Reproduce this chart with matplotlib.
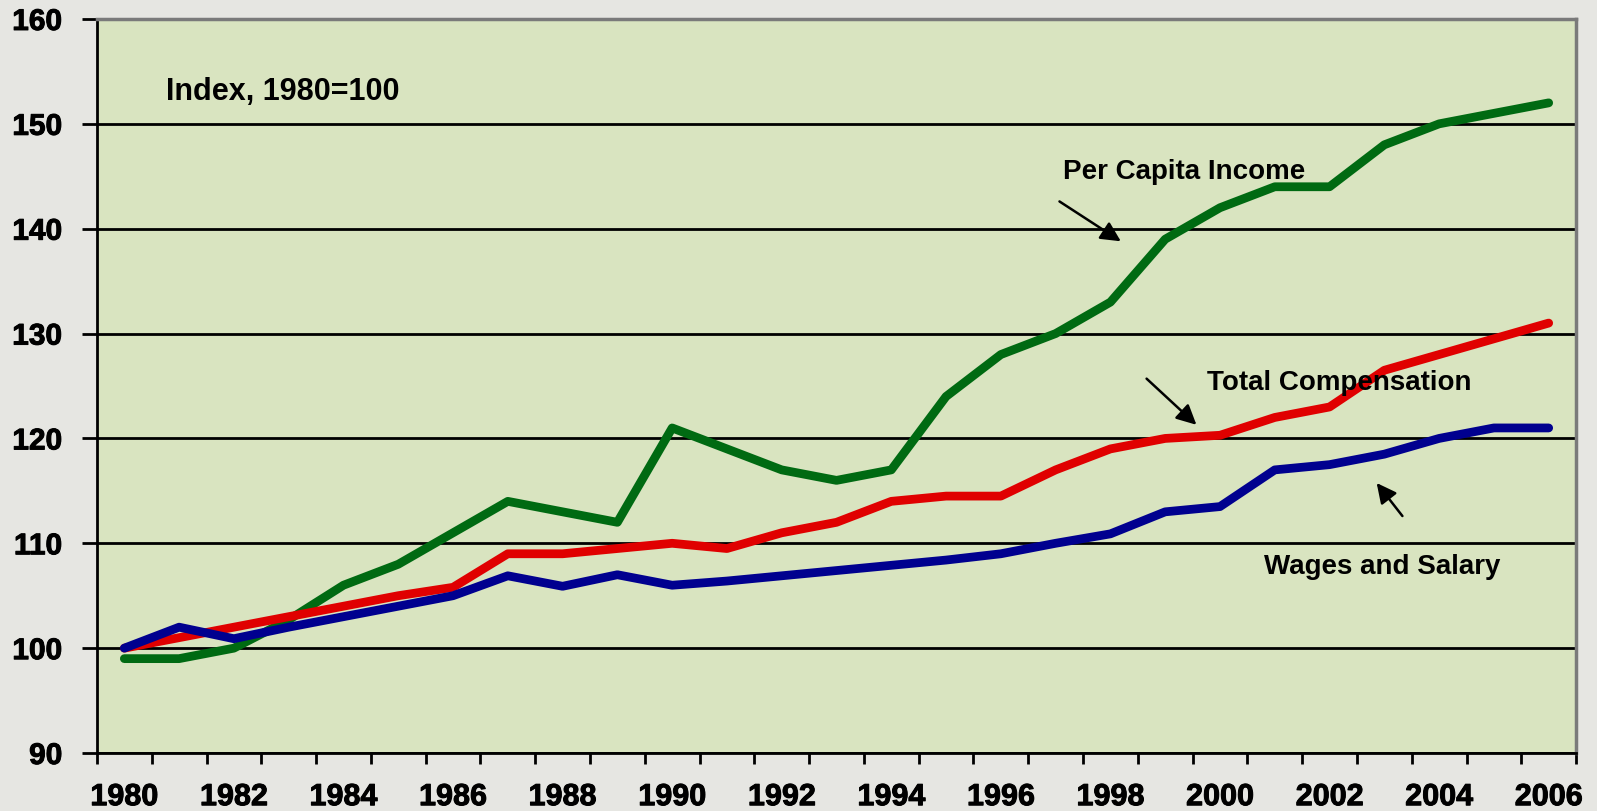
import numpy as np
import matplotlib.pyplot as plt
import matplotlib.patheffects as pe

years = list(range(1980, 2007))

# index values, 1980 = 100
per_capita = [99, 99, 100, 102.7, 106, 108, 111, 114, 113, 112, 121, 119, 117, 116, 117,
              124, 128, 130, 133, 139, 142, 144, 144, 148, 150, 151, 152]
total_comp = [100, 101, 102, 103, 104, 105, 105.8, 109, 109, 109.5, 110, 109.5, 111, 112, 114,
              114.5, 114.5, 117, 119, 120, 120.3, 122, 123, 126.5, 128, 129.5, 131]
wages = [100, 102, 100.9, 102, 103, 104, 105, 106.9, 105.9, 107, 106, 106.4, 106.9, 107.4, 107.9,
         108.4, 109, 110, 110.9, 113, 113.5, 117, 117.5, 118.5, 120, 121, 121]

plt.rcParams['font.family'] = ['Liberation Sans', 'DejaVu Sans']

fig = plt.figure(figsize=(15.97, 8.11), dpi=100, facecolor='#e6e6e2')
ax = fig.add_axes([0.0607, 0.0715, 0.9262, 0.9051])
ax.set_facecolor('#d9e4c0')

ax.plot(years, per_capita, color='#006a12', lw=6.3, solid_capstyle='round', solid_joinstyle='round', zorder=3)
ax.plot(years, total_comp, color='#e00000', lw=6.3, solid_capstyle='round', solid_joinstyle='round', zorder=3)
ax.plot(years, wages, color='#00008f', lw=6.3, solid_capstyle='round', solid_joinstyle='round', zorder=4)

ax.set_xlim(1979.5, 2006.5)
ax.set_ylim(90, 160)
ax.set_yticks(range(90, 161, 10))
ax.set_xticks(range(1980, 2007, 2))
ax.set_xticks(np.arange(1979.5, 2007, 1), minor=True)
ax.grid(axis='y', color='black', lw=2, zorder=1)
ax.set_axisbelow(True)

ax.tick_params(axis='x', which='major', length=0, pad=21, labelsize=22)
ax.tick_params(axis='x', which='minor', direction='out', length=8, width=2, color='black')
ax.tick_params(axis='y', direction='out', length=11, width=2, pad=14, labelsize=21.5)
heavy = [pe.withStroke(linewidth=0.7, foreground='black')]
for lab in ax.get_xticklabels() + ax.get_yticklabels():
    lab.set_fontweight('bold')
    lab.set_path_effects(heavy)

for s in ['left', 'bottom']:
    ax.spines[s].set_linewidth(2)
    ax.spines[s].set_color('black')
for s in ['top', 'right']:
    ax.spines[s].set_linewidth(2.5)
    ax.spines[s].set_color('#7a7a7a')

ax.text(1980.76, 153.0, 'Index, 1980=100', fontsize=22, fontweight='bold', va='center', ha='left')

ax.text(1997.13, 145.4, 'Per Capita Income', fontsize=20, fontweight='bold', va='center', ha='left')
ax.text(1999.76, 125.3, 'Total Compensation', fontsize=20, fontweight='bold', va='center', ha='left')
ax.text(2000.81, 107.7, 'Wages and Salary', fontsize=20, fontweight='bold', va='center', ha='left')

arrow = dict(arrowstyle='-|>,head_length=0.6,head_width=0.3', mutation_scale=20,
             color='black', lw=1.8, shrinkA=0, shrinkB=0)
ax.annotate('', xy=(1998.19, 138.8), xytext=(1997.07, 142.6), arrowprops=arrow)
ax.annotate('', xy=(1999.57, 121.3), xytext=(1998.66, 125.7), arrowprops=arrow)
ax.annotate('', xy=(2002.86, 115.75), xytext=(2003.33, 112.6), arrowprops=arrow)

fig.savefig('out.png', dpi=100, facecolor=fig.get_facecolor())
